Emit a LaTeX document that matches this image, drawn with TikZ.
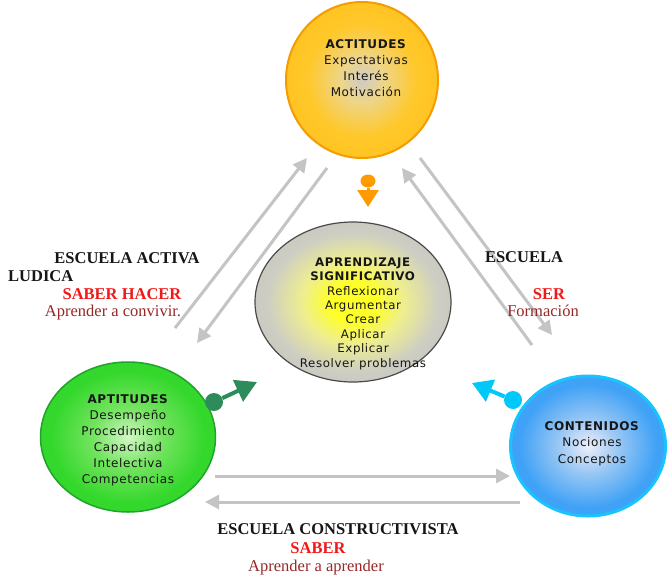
\documentclass[tikz,border=0pt]{standalone}
\usepackage{fontspec}
\setmainfont{Liberation Serif}
\newfontfamily\vf{DejaVu Sans}[LetterSpace=5]
\usetikzlibrary{shapes.geometric,arrows.meta}
\definecolor{txt}{HTML}{161616}
\definecolor{redlab}{HTML}{F01818}
\definecolor{darkred}{HTML}{962828}
\definecolor{arrgray}{HTML}{C4C4C4}
\definecolor{orgarr}{HTML}{FF9A00}
\definecolor{grnarr}{HTML}{2E8B5C}
\definecolor{bluarr}{HTML}{00C8F8}
% shading colours
\definecolor{oA}{HTML}{CFCBC6}
\definecolor{oB}{HTML}{EDD58A}
\definecolor{oC}{HTML}{FFC82A}
\definecolor{oD}{HTML}{FFBE18}
\definecolor{oE}{HTML}{F59C00}
\definecolor{gA}{HTML}{FFFF28}
\definecolor{gB}{HTML}{EEEE90}
\definecolor{gC}{HTML}{CDCDC4}
\definecolor{gD}{HTML}{C2C2BA}
\definecolor{gE}{HTML}{4A4A4A}
\definecolor{nA}{HTML}{D2F8C6}
\definecolor{nB}{HTML}{74E460}
\definecolor{nC}{HTML}{34D82C}
\definecolor{nE}{HTML}{1FA42A}
\definecolor{bA}{HTML}{EEEEFA}
\definecolor{bB}{HTML}{96C6F4}
\definecolor{bC}{HTML}{40A2F6}
\definecolor{bE}{HTML}{18C4FF}
\pgfdeclareradialshading{orsh}{\pgfpoint{0bp}{0bp}}{color(0bp)=(oA); color(7bp)=(oB); color(18bp)=(oC); color(35bp)=(oD); color(50bp)=(oD)}
\pgfdeclareradialshading{grsh}{\pgfpoint{0bp}{0bp}}{color(0bp)=(gA); color(6bp)=(gA); color(13bp)=(gB); color(22bp)=(gC); color(35bp)=(gD); color(50bp)=(gD)}
\pgfdeclareradialshading{gnsh}{\pgfpoint{0bp}{0bp}}{color(0bp)=(nA); color(10bp)=(nB); color(22bp)=(nC); color(50bp)=(nC)}
\pgfdeclareradialshading{blsh}{\pgfpoint{0bp}{0bp}}{color(0bp)=(bA); color(10bp)=(bB); color(22bp)=(bC); color(50bp)=(bC)}
\tikzset{
  blob/.style={ellipse, inner sep=0pt, shade},
  intext/.style={align=center, anchor=north, inner sep=0pt, text=txt},
  lab/.style={anchor=base, inner sep=0pt, text=txt, font=\fontsize{16.5}{18}\selectfont\bfseries},
  labred/.style={anchor=base, inner sep=0pt, text=redlab, font=\fontsize{16.5}{18}\selectfont\bfseries},
  labdr/.style={anchor=base, inner sep=0pt, text=darkred, font=\fontsize{16.5}{18}\selectfont},
  garrow/.style={draw=arrgray, line width=3pt, -{Triangle[length=14pt,width=14pt]}},
  ball/.style={ellipse, inner sep=0pt},
}
\begin{document}
\begin{tikzpicture}[x=1pt,y=-1pt]
\fill[white] (0,0) rectangle (668,575);
\useasboundingbox (0,0) rectangle (668,575);

% circles
\node[blob, shading=orsh, draw=oE, line width=2pt, minimum width=152pt, minimum height=156pt] (act) at (362,80) {};
\node[blob, shading=grsh, draw=gE, line width=1.2pt, minimum width=196pt, minimum height=160pt] (apr) at (353,302) {};
\node[blob, shading=gnsh, draw=nE, line width=1.5pt, minimum width=175pt, minimum height=150pt] (apt) at (128,437) {};
\node[blob, shading=blsh, draw=bE, line width=3pt, minimum width=155pt, minimum height=140pt] (con) at (588,446) {};

% texts in circles
\node[intext, font=\vf\fontsize{12}{16}\selectfont] (actt) at (366,39.2)
  {\textbf{ACTITUDES}\\Expectativas\\Interés\\Motivación};
\node[intext, font=\vf\fontsize{11.8}{14.4}\selectfont] (aprt) at (363,257.5)
  {\textbf{APRENDIZAJE}\\\textbf{SIGNIFICATIVO}\\Reflexionar\\Argumentar\\Crear\\Aplicar\\Explicar\\Resolver problemas};
\node[intext, font=\vf\fontsize{12}{16}\selectfont] (aptt) at (128,394)
  {\textbf{APTITUDES}\\Desempeño\\Procedimiento\\Capacidad\\Intelectiva\\Competencias};
\node[intext, font=\vf\fontsize{12}{16.5}\selectfont] (cont) at (592,421.2)
  {\textbf{CONTENIDOS}\\Nociones\\Conceptos};

% gray arrows
\coordinate (l1a) at (175,328); \coordinate (l1b) at (307,158);
\coordinate (l2a) at (327,168); \coordinate (l2b) at (197,343);
\coordinate (r1a) at (532,345); \coordinate (r1b) at (402,168);
\coordinate (r2a) at (420,158); \coordinate (r2b) at (552,335);
\coordinate (b1a) at (215,476); \coordinate (b1b) at (510,476);
\coordinate (b2a) at (520,502); \coordinate (b2b) at (205,502);
\draw[garrow] (l1a) -- (l1b);
\draw[garrow] (l2a) -- (l2b);
\draw[garrow] (r1a) -- (r1b);
\draw[garrow] (r2a) -- (r2b);
\draw[garrow] (b1a) -- (b1b);
\draw[garrow] (b2a) -- (b2b);

% small coloured arrows
\node[ball, fill=orgarr, minimum width=15pt, minimum height=13pt] (oball) at (368,181) {};
\coordinate (otip) at (368,207);
\draw[orgarr, line width=3pt, -{Triangle[length=17pt,width=21pt]}] (oball) -- (otip);
\node[ball, fill=grnarr, minimum width=18pt, minimum height=18pt] (gball) at (214,402) {};
\coordinate (gtip) at (257,382);
\draw[grnarr, line width=4pt, -{Triangle[length=21pt,width=23pt]}] (gball) -- (gtip);
\node[ball, fill=bluarr, minimum width=18pt, minimum height=18pt] (bball) at (513,400) {};
\coordinate (btip) at (472,383);
\draw[bluarr, line width=4pt, -{Triangle[length=20pt,width=23pt]}] (bball) -- (btip);

% labels
\node[lab] (escact) at (127,263) {ESCUELA ACTIVA};
\node[lab, anchor=base west] (ludica) at (8,281) {LUDICA};
\node[labred] (saberhacer) at (122,299) {SABER HACER};
\node[labdr] (convivir) at (113,316) {Aprender a convivir.};
\node[lab] (escuela) at (524,262) {ESCUELA};
\node[labred] (ser) at (549,299) {SER};
\node[labdr] (formacion) at (543,316) {Formación};
\node[lab] (esccons) at (338,534) {ESCUELA CONSTRUCTIVISTA};
\node[labred] (saber) at (318,553) {SABER};
\node[labdr] (aprender) at (316,571) {Aprender a aprender};
\end{tikzpicture}
\end{document}
